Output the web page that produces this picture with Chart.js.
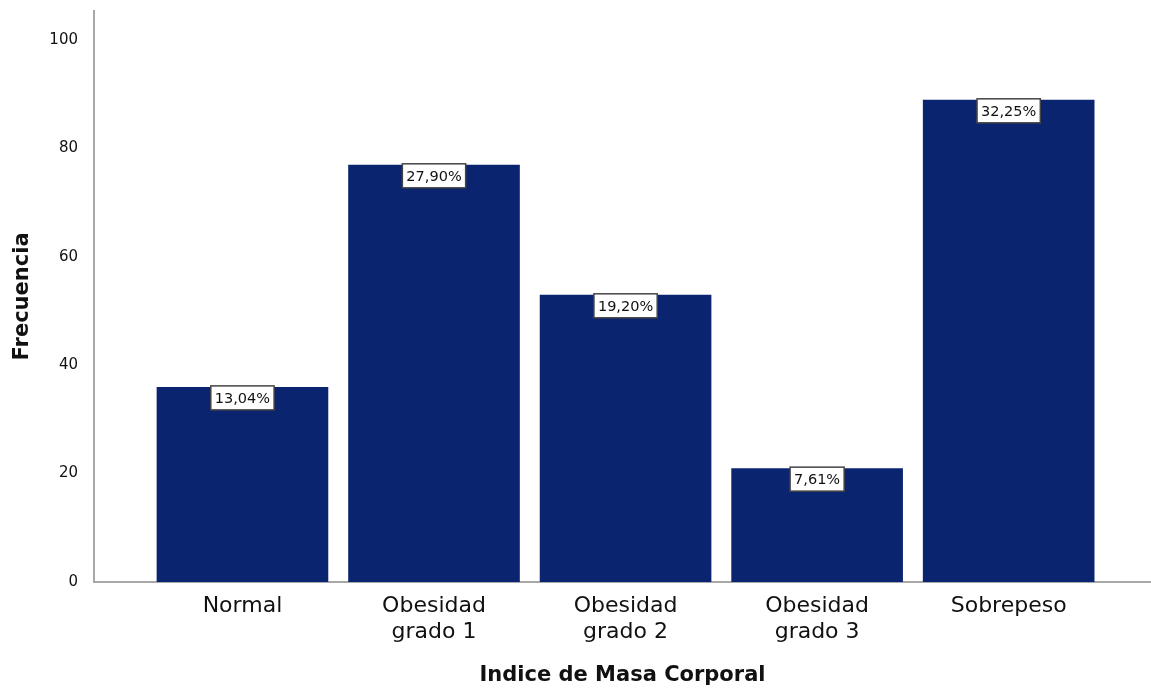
<!DOCTYPE html>
<html>
<head>
<meta charset="utf-8">
<script src="https://cdn.jsdelivr.net/npm/chart.js@4/dist/chart.umd.min.js"></script>
<style>
  html, body { margin: 0; padding: 0; background: #fff; }
  #wrap { width: 1151px; height: 690px; }
</style>
</head>
<body>
<div id="wrap"><canvas id="imcChart" width="1151" height="690"></canvas></div>
<script>
// categories (multi-line labels as shown under the axis)
var categorias = [
    ['Normal'],
    ['Obesidad', 'grado 1'],
    ['Obesidad', 'grado 2'],
    ['Obesidad', 'grado 3'],
    ['Sobrepeso']
];
var frecuencias = [36, 77, 53, 21, 89];
var yTicks = [0, 20, 40, 60, 80, 100];

var total = frecuencias.reduce(function (a, b) { return a + b; }, 0);

var puntos = frecuencias.map(function (v, i) {
    return { x: i, y: v };
});

// white boxed percentage label at the top of each bar
var etiquetas = {
    id: 'etiquetas',
    afterDatasetsDraw: function (chart) {
        var ctx = chart.ctx;
        var meta = chart.getDatasetMeta(0);
        ctx.save();
        ctx.font = '14.5px "DejaVu Sans"';
        ctx.textAlign = 'center';
        ctx.textBaseline = 'middle';
        meta.data.forEach(function (bar, i) {
            var txt = (frecuencias[i] / total * 100).toFixed(2).replace('.', ',') + '%';
            var w = ctx.measureText(txt).width + 8;
            var h = 24;
            var x = bar.x - w / 2;
            var y = bar.y - 1;
            ctx.fillStyle = '#ffffff';
            ctx.fillRect(x, y, w, h);
            ctx.strokeStyle = '#444444';
            ctx.lineWidth = 1.5;
            ctx.strokeRect(x, y, w, h);
            ctx.fillStyle = '#111111';
            ctx.fillText(txt, bar.x, y + h / 2 + 1);
        });
        ctx.restore();
    }
};

var ctx = document.getElementById('imcChart').getContext('2d');
var chart = new Chart(ctx, {
    type: 'bar',
    data: {
        datasets: [{
            data: puntos,
            backgroundColor: '#0b2470',
            borderWidth: 0,
            categoryPercentage: 1,
            barPercentage: 0.896
        }]
    },
    options: {
        responsive: false,
        animation: false,
        layout: { padding: { top: 11, right: 0, bottom: 2, left: 0 } },
        plugins: {
            legend: { display: false },
            tooltip: { enabled: false }
        },
        scales: {
            x: {
                type: 'linear',
                offset: false,
                min: -0.775,
                max: 4.743,
                afterBuildTicks: function (scale) {
                    scale.ticks = categorias.map(function (c, i) { return { value: i }; });
                },
                grid: { display: false, offset: false },
                border: { display: true, color: '#a8a8a8', width: 2 },
                ticks: {
                    autoSkip: false,
                    maxRotation: 0,
                    padding: 3,
                    color: '#111111',
                    font: { family: 'DejaVu Sans', size: 22, lineHeight: 1.18 },
                    callback: function (value) {
                        return categorias[value] || '';
                    }
                },
                title: {
                    display: true,
                    text: 'Indice de Masa Corporal',
                    color: '#111111',
                    font: { family: 'DejaVu Sans', size: 21, weight: 'bold' },
                    padding: { top: 15, bottom: 0 }
                }
            },
            y: {
                min: 0,
                max: 105.4,
                afterBuildTicks: function (scale) {
                    scale.ticks = yTicks.map(function (v) { return { value: v }; });
                },
                afterFit: function (scale) {
                    scale.width = 94;
                    scale.paddingTop = 0;
                },
                grid: { display: false },
                border: { display: true, color: '#a8a8a8', width: 2 },
                ticks: {
                    padding: 8,
                    color: '#111111',
                    font: { family: 'DejaVu Sans', size: 15 }
                },
                title: {
                    display: true,
                    text: 'Frecuencia',
                    color: '#111111',
                    font: { family: 'DejaVu Sans', size: 21, weight: 'bold' },
                    padding: { top: 10, bottom: 0 }
                }
            }
        }
    },
    plugins: [etiquetas]
});
</script>
</body>
</html>
